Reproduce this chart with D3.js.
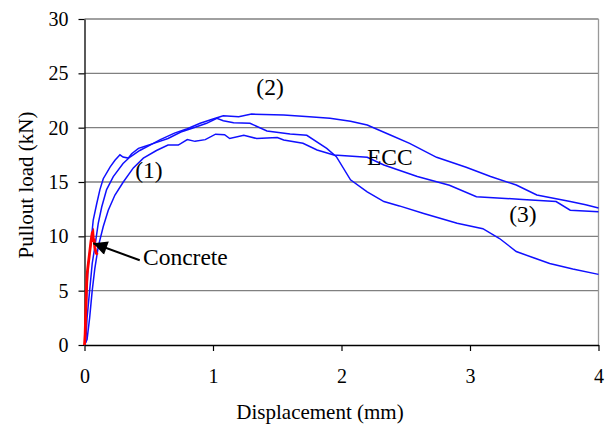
<!DOCTYPE html>
<html><head><meta charset="utf-8">
<script src="https://cdn.jsdelivr.net/npm/d3@7"></script>
<style>
html,body{margin:0;padding:0;background:#fff;}
svg text{font-family:"Liberation Serif","Times New Roman",serif !important;fill:#000;}
</style></head>
<body><svg id="c" width="611" height="425"></svg>
<script>
// Data (displacement mm, load kN)
const curve1D = [0,0.005,0.01,0.015,0.02,0.03,0.04,0.05,0.068,0.095,0.12,0.146,0.2,0.237,0.276,0.3,0.34,0.367,0.42,0.46,0.55,0.65,0.75,0.85,0.95,1.03,1.08,1.16,1.288,1.42,1.6,1.73,1.885,1.96,2.07,2.2,2.33,2.45,2.64,2.9,3.1,3.23,3.36,3.5,3.62,3.8,4.0];
const curve1L = [0,0.5,2,4,5.5,7.5,8.5,9.4,11.5,13.0,14.3,15.3,16.4,17.0,17.5,17.3,17.2,17.6,18.1,18.25,18.6,19.0,19.6,20.0,20.4,20.86,20.64,20.46,20.4,19.7,19.42,19.3,18.1,17.33,15.2,14.1,13.2,12.8,12.1,11.2,10.7,9.8,8.6,8.0,7.5,7.0,6.5];
const curve2D = [0,0.01,0.02,0.04,0.06,0.08,0.107,0.134,0.172,0.224,0.3,0.354,0.43,0.51,0.59,0.7,0.8,0.9,1.0,1.08,1.2,1.3,1.55,1.75,1.91,2.07,2.2,2.38,2.53,2.74,2.97,3.16,3.36,3.52,3.65,3.78,3.9,4.0];
const curve2L = [0,0.3,2.5,5,7.5,9.0,11.2,12.7,14.3,15.5,16.7,17.3,17.9,18.4,18.9,19.5,19.9,20.4,20.8,21.1,21.0,21.25,21.17,21.0,20.86,20.6,20.24,19.32,18.56,17.27,16.35,15.5,14.72,13.8,13.5,13.2,12.9,12.6];
const curve3D = [0,0.02,0.04,0.06,0.08,0.107,0.146,0.185,0.237,0.302,0.38,0.458,0.56,0.65,0.73,0.8,0.86,0.94,1.02,1.09,1.13,1.24,1.34,1.5,1.55,1.7,1.81,1.94,2.2,2.33,2.59,2.84,3.05,3.41,3.67,3.78,4.0];
const curve3L = [0,0.5,2.5,5.0,7.0,9.05,10.9,12.4,13.8,15.0,16.3,17.2,17.9,18.4,18.4,18.9,18.74,18.9,19.4,19.35,19.0,19.3,19.0,19.1,18.86,18.56,17.94,17.48,17.27,16.56,15.5,14.7,13.65,13.4,13.2,12.4,12.27];
const concreteD = [0,0.005,0.01,0.015,0.02,0.03,0.04,0.05,0.06,0.065,0.07,0.075,0.08,0.09,0.1];
const concreteL = [0,1,3,5,6.5,7.5,8.5,9.5,10.3,10.4,9.5,9.8,9.0,8.5,8.3];
const xTicks = [0,1,2,3,4];
const yTicks = [0,5,10,15,20,25,30];
const labels = [
  {t:"(2)", d:1.444, L:23.0, a:"middle"},
  {t:"(1)", d:0.502, L:15.4, a:"middle"},
  {t:"ECC", d:2.198, L:16.6, a:"start"},
  {t:"(3)", d:3.412, L:11.3, a:"middle"},
  {t:"Concrete", d:0.455, L:7.36, a:"start"}
];
const arrow = {fromD:0.43, fromL:7.8, toD:0.068, toL:9.36};

const svg = d3.select("#c");
const x = d3.scaleLinear().domain([0,4]).range([84.5,598.5]);
const y = d3.scaleLinear().domain([0,30]).range([345,19]);
const ff = "Liberation Serif, Times New Roman, serif";

// gridlines
svg.append("g").selectAll("line").data(yTicks.filter(v=>v>0)).join("line")
  .attr("x1",x(0)).attr("x2",x(4)).attr("y1",d=>y(d)).attr("y2",d=>y(d))
  .attr("stroke","#808080").attr("stroke-width",1.3);
// right border
svg.append("line").attr("x1",x(4)).attr("x2",x(4)).attr("y1",y(30)).attr("y2",y(0))
  .attr("stroke","#999").attr("stroke-width",1.3);

// axes
const ya = svg.append("g").attr("transform",`translate(${x(0)},0)`)
  .call(d3.axisLeft(y).tickValues(yTicks).tickFormat(d3.format("d")).tickSize(6).tickPadding(10).tickSizeOuter(0));
const xa = svg.append("g").attr("transform",`translate(0,${y(0)})`)
  .call(d3.axisBottom(x).tickValues(xTicks).tickFormat(d3.format("d")).tickSize(6).tickPadding(18).tickSizeOuter(0));
[ya,xa].forEach(g=>{
  g.attr("font-family",ff).attr("font-size",20);
  g.selectAll("path").attr("stroke","#000").attr("stroke-width",1.3);
  g.selectAll("line").attr("stroke","#000").attr("stroke-width",1.2);
  g.selectAll("text").attr("font-size",20).attr("font-family",ff);
});

const line = d3.line().x(d=>x(d[0])).y(d=>y(d[1]));
const series = [[curve1D,curve1L],[curve2D,curve2L],[curve3D,curve3L]];
series.forEach(([D,L])=>{
  svg.append("path").datum(D.map((v,i)=>[v,L[i]])).attr("d",line)
    .attr("fill","none").attr("stroke","#1010ff").attr("stroke-width",1.5);
});
svg.append("path").datum(concreteD.map((v,i)=>[v,concreteL[i]])).attr("d",line)
  .attr("fill","none").attr("stroke","#ff0000").attr("stroke-width",2.8);

// arrow
svg.append("defs").append("marker").attr("id","ah").attr("viewBox","0 0 10 10")
  .attr("refX",10).attr("refY",5).attr("markerWidth",16).attr("markerHeight",14)
  .attr("markerUnits","userSpaceOnUse").attr("orient","auto")
  .append("path").attr("d","M0,0L10,5L0,10z").attr("fill","#000");
svg.append("line").attr("x1",x(arrow.fromD)).attr("y1",y(arrow.fromL))
  .attr("x2",x(arrow.toD)).attr("y2",y(arrow.toL))
  .attr("stroke","#000").attr("stroke-width",2).attr("marker-end","url(#ah)");

// labels
svg.append("g").selectAll("text").data(labels).join("text")
  .attr("x",d=>x(d.d)).attr("y",d=>y(d.L)).attr("text-anchor",d=>d.a)
  .attr("font-family",ff).attr("font-size",23.5).text(d=>d.t);

// axis titles
svg.append("text").attr("x",320).attr("y",419).attr("text-anchor","middle")
  .attr("font-family",ff).attr("font-size",21).text("Displacement (mm)");
svg.append("text").attr("transform","translate(33,185) rotate(-90)").attr("text-anchor","middle")
  .attr("font-family",ff).attr("font-size",21).text("Pullout load (kN)");
</script></body></html>
